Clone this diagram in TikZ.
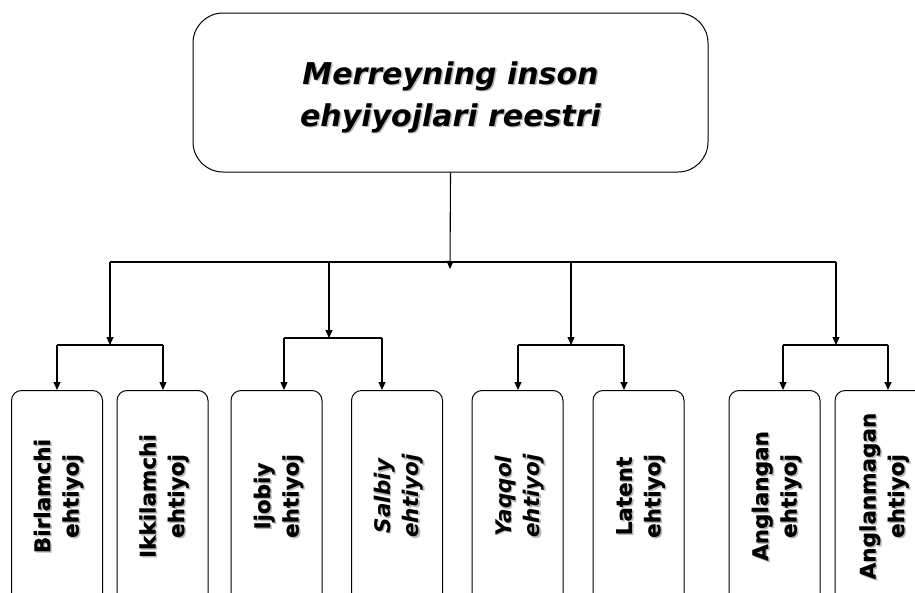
\documentclass[tikz,border=0pt]{standalone}
\usepackage{fontspec}
\setmainfont{DejaVu Sans}[BoldFeatures={FakeBold=0.6}]
\usetikzlibrary{arrows.meta}
\begin{document}
\begin{tikzpicture}[x=1pt,y=1pt,
  box/.style={draw=black, line width=1pt, fill=white, rounded corners=10pt,
    minimum width=91pt, minimum height=240pt, anchor=north, inner sep=0pt},
  lbl/.style={font=\fontsize{21.5}{28.5}\selectfont\bfseries, align=center, rotate=90, inner sep=0pt},
  lblit/.style={lbl, font=\fontsize{21.5}{28.5}\selectfont\bfseries\itshape},
  shd/.style={text=black!28},
  titlebox/.style={draw=black, line width=1pt, fill=white, rounded corners=30pt,
    minimum width=515pt, minimum height=159pt, inner sep=0pt},
  titletext/.style={font=\fontsize{30}{42}\selectfont\bfseries\itshape, align=center, inner sep=0pt},
  conn/.style={line width=1.1pt},
  arr/.style={conn, -{Triangle[length=8pt,width=7pt]}}]
\useasboundingbox (0,0) rectangle (915,-592);
\clip (0,0) rectangle (915,-592);

% title
\node[titlebox] (title) at (450.5,-92.5) {};
\node[titletext, shd] (titleS) at (452,-98.5) {Merreyning inson\\ehyiyojlari reestri};
\node[titletext] (titleT) at (450.5,-97) {Merreyning inson\\ehyiyojlari reestri};

% boxes
\node[box] (b1) at (57,-390) {};
\node[box] (b2) at (162.5,-390) {};
\node[box] (b3) at (276.5,-390) {};
\node[box] (b4) at (397,-390) {};
\node[box] (b5) at (517.5,-390) {};
\node[box] (b6) at (638.5,-390) {};
\node[box] (b7) at (774.5,-390) {};
\node[box] (b8) at (880.5,-390) {};

% labels with shadow
\node[lbl, shd] (l1s) at (60,-497.5) {Birlamchi\\ehtiyoj};
\node[lbl] (l1) at (58.5,-496) {Birlamchi\\ehtiyoj};
\node[lbl, shd] (l2s) at (165.5,-497.5) {Ikkilamchi\\ehtiyoj};
\node[lbl] (l2) at (164,-496) {Ikkilamchi\\ehtiyoj};
\node[lbl, shd] (l3s) at (280,-497.5) {Ijobiy\\ehtiyoj};
\node[lbl] (l3) at (278.5,-496) {Ijobiy\\ehtiyoj};
\node[lblit, shd] (l4s) at (400,-497.5) {Salbiy\\ehtiyoj};
\node[lblit] (l4) at (398.5,-496) {Salbiy\\ehtiyoj};
\node[lblit, shd] (l5s) at (521,-497.5) {Yaqqol\\ehtiyoj};
\node[lblit] (l5) at (519.5,-496) {Yaqqol\\ehtiyoj};
\node[lbl, shd] (l6s) at (642,-497.5) {Latent\\ehtiyoj};
\node[lbl] (l6) at (640.5,-496) {Latent\\ehtiyoj};
\node[lbl, shd] (l7s) at (778,-497.5) {Anglangan\\ehtiyoj};
\node[lbl] (l7) at (776.5,-496) {Anglangan\\ehtiyoj};
\node[lbl, shd] (l8s) at (885.5,-497.5) {Anglanmagan\\ehtiyoj};
\node[lbl] (l8) at (884,-496) {Anglanmagan\\ehtiyoj};

% main connector
\coordinate (mainTip) at (450,-269);
\draw[arr] (title.south) -- (mainTip);
\coordinate (hL) at (110,-262);
\coordinate (hR) at (836,-262);
\draw[conn] (hL) -- (hR);

% group forks
\coordinate (g2) at (329,-262);
\coordinate (g3) at (571,-262);
\coordinate (f1) at (110,-345);
\coordinate (f2) at (329,-338);
\coordinate (f3) at (571,-345);
\coordinate (f4) at (836,-345);
\draw[arr] (hL) -- (f1);
\draw[arr] (g2) -- (f2);
\draw[arr] (g3) -- (f3);
\draw[arr] (hR) -- (f4);

% sub forks
\coordinate (s1a) at (57,-345);   \coordinate (s1b) at (163,-345);
\coordinate (s2a) at (284,-338);  \coordinate (s2b) at (382,-338);
\coordinate (s3a) at (518,-345);  \coordinate (s3b) at (624,-345);
\coordinate (s4a) at (783,-345);  \coordinate (s4b) at (888,-345);
\draw[conn] (s1a) -- (s1b);
\draw[conn] (s2a) -- (s2b);
\draw[conn] (s3a) -- (s3b);
\draw[conn] (s4a) -- (s4b);
\draw[arr] (s1a) -- (s1a |- b1.north);
\draw[arr] (s1b) -- (s1b |- b2.north);
\draw[arr] (s2a) -- (s2a |- b3.north);
\draw[arr] (s2b) -- (s2b |- b4.north);
\draw[arr] (s3a) -- (s3a |- b5.north);
\draw[arr] (s3b) -- (s3b |- b6.north);
\draw[arr] (s4a) -- (s4a |- b7.north);
\draw[arr] (s4b) -- (s4b |- b8.north);
\end{tikzpicture}
\end{document}
